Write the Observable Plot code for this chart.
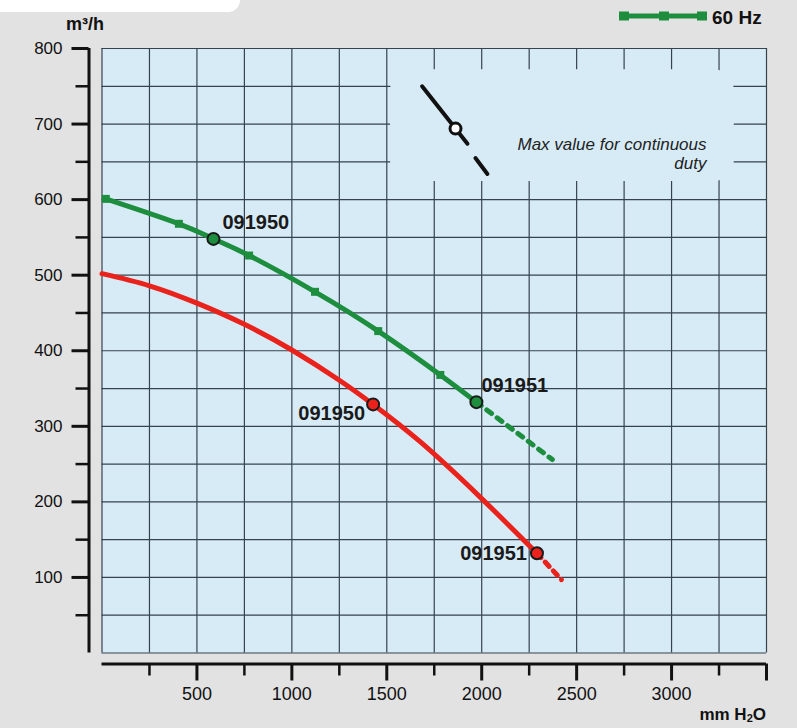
<!DOCTYPE html>
<html><head><meta charset="utf-8">
<script src="https://cdn.jsdelivr.net/npm/d3@7"></script>
<script src="https://cdn.jsdelivr.net/npm/@observablehq/plot@0.6"></script>
<style>
body{margin:0;background:#e2e2e2;font-family:"Liberation Sans",Arial,sans-serif;}
#wrap{position:relative;width:797px;height:728px;overflow:hidden;background:#e2e2e2;}
#tab{position:absolute;left:0;top:0;width:240px;height:12px;background:#fff;border-bottom-right-radius:14px;}
#chart{position:absolute;left:0;top:0;}
.lbl{position:absolute;font-weight:bold;color:#111;white-space:nowrap;line-height:1;}
.lbl sub{font-size:11px;vertical-align:-2px;}
</style></head><body>
<div id="wrap">
  <div id="tab"></div>
  <div id="chart"></div>
  <div class="lbl" style="left:66px;top:15px;font-size:18px;">m³/h</div>
  <div class="lbl" style="right:31px;top:706px;font-size:17px;">mm H<sub>2</sub>O</div>
  <svg style="position:absolute;left:619px;top:8px;" width="90" height="16">
    <line x1="4" y1="8" x2="84" y2="8" stroke="#1d8d3e" stroke-width="5"/>
    <rect x="0" y="3.5" width="10" height="9" fill="#1d8d3e"/>
    <rect x="40" y="3.5" width="10" height="9" fill="#1d8d3e"/>
    <rect x="78" y="3.5" width="10" height="9" fill="#1d8d3e"/>
  </svg>
  <div class="lbl" style="left:712px;top:8px;font-size:19px;">60 Hz</div>
</div>
<script>
// ---- data ----
const greenX = [20, 405, 587, 775, 1122, 1455, 1782, 1972];
const greenY = [601, 568, 548, 526, 478, 426, 368, 332];
const greenMarkX = [20, 405, 775, 1122, 1455, 1782];
const greenMarkY = [601, 568, 526, 478, 426, 368];
const greenExtX = [1972, 2372];
const greenExtY = [332, 256];

const redX = [0, 250, 500, 750, 1000, 1250, 1428, 1674, 1989, 2291];
const redY = [502, 486, 463, 435, 401, 361, 329, 280, 207, 132];
const redExtX = [2291, 2420];
const redExtY = [132, 97];

const pointSeries = ["green", "green", "red", "red"];
const pointX = [587, 1972, 1428, 2291];
const pointY = [548, 332, 329, 132];
const pointLabels = ["091950", "091951", "091950", "091951"];

const xMajorTicks = [500, 1000, 1500, 2000, 2500, 3000, 3500];
const xTickLabels = [500, 1000, 1500, 2000, 2500, 3000];
const xMinorTicks = [250, 750, 1250, 1750, 2250, 2750, 3250];
const yMajorTicks = [100, 200, 300, 400, 500, 600, 700, 800];
const yMinorTicks = [50, 150, 250, 350, 450, 550, 650, 750];
const gridXValues = d3.range(0, 3501, 250);
const gridYValues = d3.range(0, 801, 50);

// annotation (max value for continuous duty) key, in data units
const keyBox = [{x1: 1520, x2: 3330, y1: 624, y2: 772}];
const keySolid = [{x: 1686, y: 750}, {x: 1925, y: 674}];
const keyDash = [{x: 1967, y: 655}, {x: 2030, y: 634}];
const keyCircle = [{x: 1862, y: 694}];
const keyText = [{x: 3184, y: 661, t: "Max value for continuous\nduty"}];

// ---- build ----
const GREEN = "#1d8d3e", RED = "#e9231c", BLUE = "#d7ebf7", GRID = "#35434f";
const toPts = (xs, ys) => xs.map((x, i) => ({x, y: ys[i]}));
const green = toPts(greenX, greenY);
const greenExt = toPts(greenExtX, greenExtY);
const greenMarks = toPts(greenMarkX, greenMarkY);
const red = toPts(redX, redY);
const redExt = toPts(redExtX, redExtY);
const points = pointX.map((x, i) => ({x, y: pointY[i], s: pointSeries[i], label: pointLabels[i], i}));
const labelDx = [9, 5, -8, -10], labelDy = [-16, -17, 9, 0];

const chart = Plot.plot({
  width: 797, height: 728,
  marginLeft: 101.5, marginRight: 31, marginTop: 48, marginBottom: 75.5,
  x: {domain: [0, 3500], axis: null},
  y: {domain: [0, 800], axis: null},
  style: {background: "transparent", color: "#111", fontFamily: "'Liberation Sans', Arial, sans-serif", overflow: "visible"},
  marks: [
    Plot.frame({fill: BLUE, stroke: null}),
    Plot.ruleX(gridXValues, {stroke: GRID, strokeWidth: 1.2}),
    Plot.ruleY(gridYValues, {stroke: GRID, strokeWidth: 1.2}),
    Plot.rect(keyBox, {x1: "x1", x2: "x2", y1: "y1", y2: "y2", fill: BLUE, rx: 20}),
    Plot.line(keySolid, {x: "x", y: "y", stroke: "#111", strokeWidth: 4}),
    Plot.line(keyDash, {x: "x", y: "y", stroke: "#111", strokeWidth: 4}),
    Plot.dot(keyCircle, {x: "x", y: "y", r: 5.5, fill: "white", stroke: "#111", strokeWidth: 3}),
    Plot.text(keyText, {x: "x", y: "y", text: "t", textAnchor: "end", lineAnchor: "middle", lineHeight: 1.1, fontStyle: "italic", fontSize: 17, fill: "#222"}),
    Plot.line(red, {x: "x", y: "y", stroke: RED, strokeWidth: 5, curve: "natural"}),
    Plot.line(redExt, {x: "x", y: "y", stroke: RED, strokeWidth: 5, strokeDasharray: "6,6"}),
    Plot.line(green, {x: "x", y: "y", stroke: GREEN, strokeWidth: 5, curve: "natural"}),
    Plot.line(greenExt, {x: "x", y: "y", stroke: GREEN, strokeWidth: 5, strokeDasharray: "6,7"}),
    Plot.dot(greenMarks, {x: "x", y: "y", symbol: "square", r: 4.5, fill: GREEN}),
    Plot.dot(points, {x: "x", y: "y", r: 6, fill: d => d.s === "green" ? GREEN : RED, stroke: "#1a1a1a", strokeWidth: 2}),
    ...points.map(p => Plot.text([p], {x: "x", y: "y", text: "label", dx: labelDx[p.i], dy: labelDy[p.i],
      textAnchor: labelDx[p.i] > 0 ? "start" : "end", lineAnchor: "middle", fontWeight: "bold", fontSize: 20, fill: "#1a1a1a"})),
    // y axis
    Plot.ruleX([0], {dx: -13, stroke: "#111", strokeWidth: 3}),
    Plot.axisY(yMinorTicks, {anchor: "left", tickSize: 13, dx: -13, strokeWidth: 2.5, tickFormat: () => ""}),
    Plot.axisY(yMajorTicks, {anchor: "left", tickSize: 17, tickPadding: 9.5, dx: -13, strokeWidth: 3, fontSize: 17, tickFormat: d => String(d)}),
    // x axis
    Plot.ruleY([0], {dy: 11, stroke: "#111", strokeWidth: 3}),
    Plot.axisX(xMinorTicks, {anchor: "bottom", tickSize: 12, dy: 11, strokeWidth: 2.5, tickFormat: () => ""}),
    Plot.axisX(xMajorTicks, {anchor: "bottom", tickSize: 17, tickPadding: 6, dy: 11, strokeWidth: 3, fontSize: 18,
      tickFormat: d => xTickLabels.includes(d) ? String(d) : ""})
  ]
});
document.getElementById("chart").appendChild(chart);
</script>
</body></html>
